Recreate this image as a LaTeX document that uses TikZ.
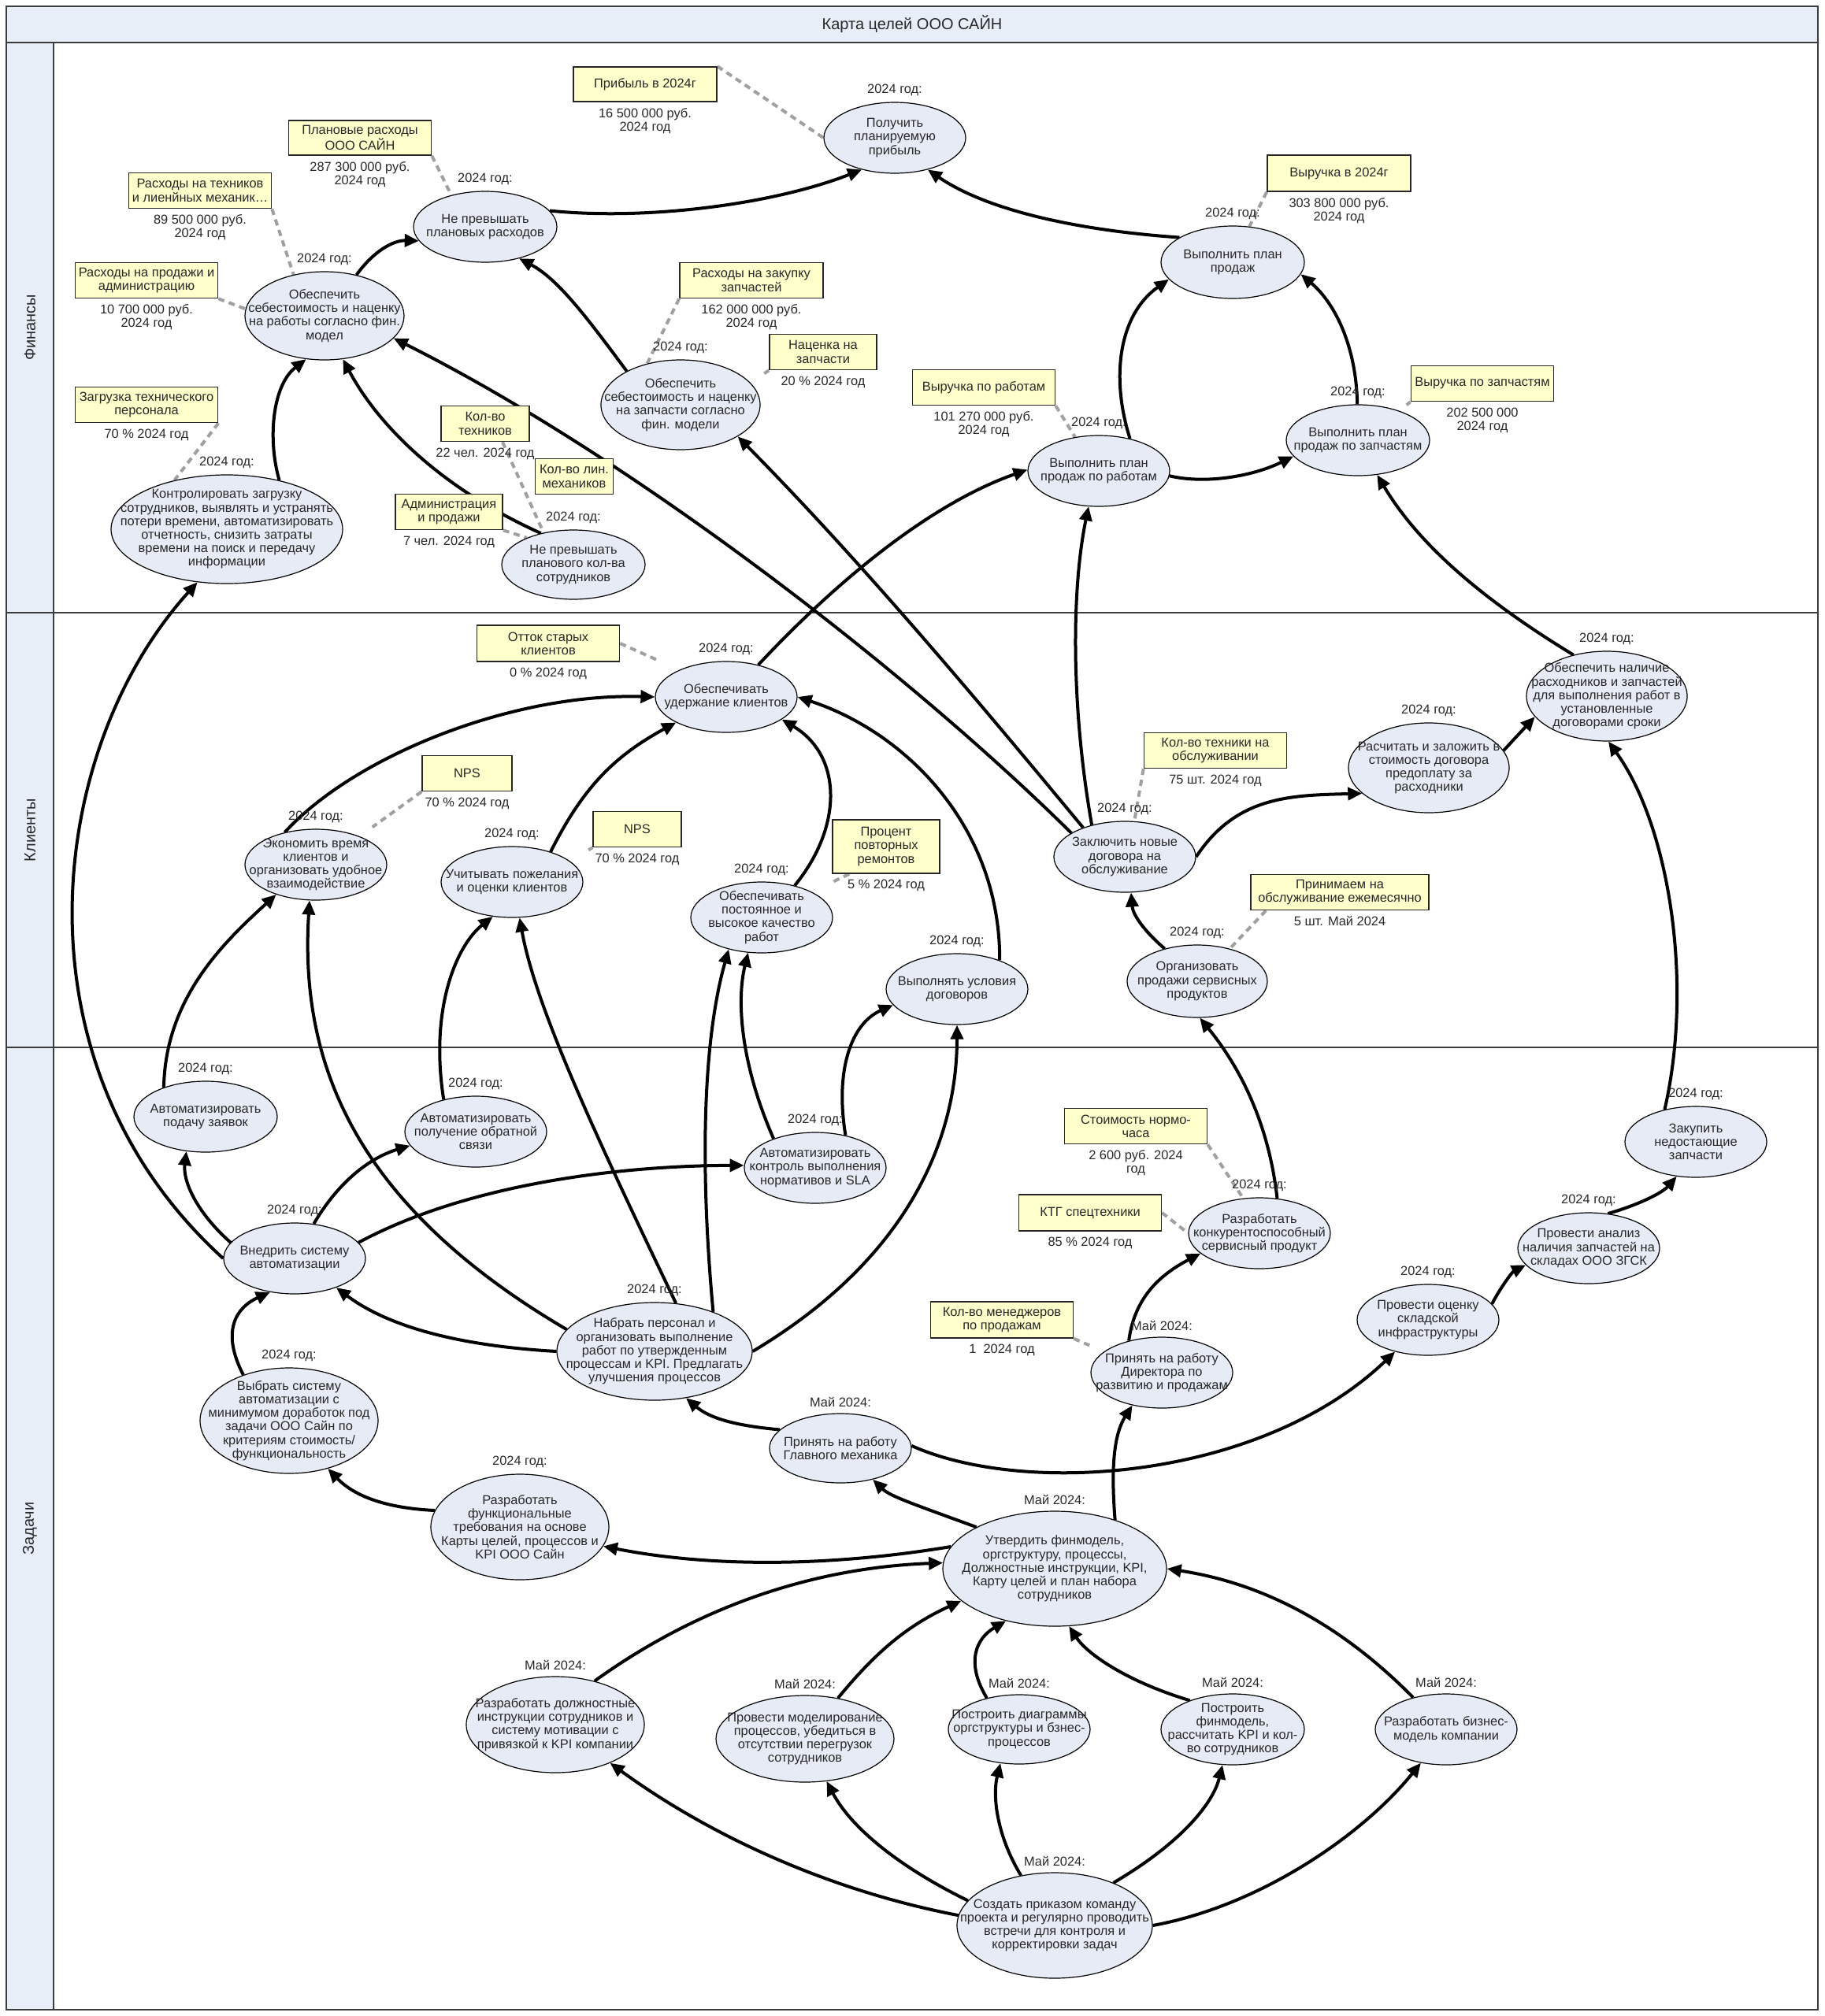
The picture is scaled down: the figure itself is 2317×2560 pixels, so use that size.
\documentclass[tikz,border=0pt]{standalone}
\usepackage{fontspec}
\setmainfont{Liberation Sans}
\usetikzlibrary{shapes.geometric,arrows.meta}
\pgfdeclarelayer{background}
\pgfsetlayers{background,main}
\newcommand\gfont{\fontsize{8.2}{8.6}\selectfont}
\newcommand\tfont{\fontsize{10}{12}\selectfont}
\definecolor{goalfill}{RGB}{230,235,246}
\definecolor{kpifill}{RGB}{255,255,204}
\definecolor{lanefill}{RGB}{232,238,248}
\definecolor{dashgray}{RGB}{160,160,160}
\definecolor{txt}{RGB}{40,40,40}
\definecolor{framec}{RGB}{60,60,60}
\tikzset{
 goal/.style={ellipse, draw=black, line width=0.6pt, fill=goalfill, align=center,
   inner xsep=-60pt, inner ysep=-30pt, font=\gfont, text=txt},
 G/.style 2 args={goal, minimum width=#1pt, minimum height=#2pt},
 kpi/.style={rectangle, draw=black!85, line width=0.8pt, fill=kpifill, align=center,
   inner sep=1pt, font=\gfont, text=txt},
 K/.style 2 args={kpi, minimum width=#1pt, minimum height=#2pt},
 yr/.style={font=\gfont, text=txt, inner sep=1pt},
 val/.style={font=\gfont, align=center, text=txt, inner sep=1pt},
 conn/.style={line width=2pt, -{Triangle[length=9pt,width=8pt]}},
 kdash/.style={line width=2pt, draw=dashgray, dash pattern=on 4pt off 3pt},
 lane/.style={font=\tfont, text=txt, rotate=90},
}
\begin{document}
\begin{tikzpicture}[x=0.5pt, y=-0.5pt, label distance=2.5pt]
\useasboundingbox (0,0) rectangle (2317,2560);

% ---------- title and lanes ----------
\node[font=\tfont, text=txt] (title) at (1158,31) {Карта целей ООО САЙН};
\node[lane] (lF) at (38,416) {Финансы};
\node[lane] (lC) at (38,1054) {Клиенты};
\node[lane] (lT) at (38,1941) {Задачи};

% ---------- Finance ----------
\node[G={90}{45}, label={[yr]above:{2024 год:}}] (n1) at (1136,175) {Получить\\планируемую\\прибыль};
\node[G={91}{45}, label={[yr]above:{2024 год:}}] (n2) at (616,288) {Не превышать\\плановых расходов};
\node[G={101}{56}, label={[yr]above:{2024 год:}}] (n3) at (412,401) {Обеспечить\\себестоимость и наценку\\на работы согласно фин.\\модел};
\node[G={147}{69}, label={[yr]above:{2024 год:}}] (n4) at (288,672) {Контролировать загрузку\\сотрудников, выявлять и устранять\\потери времени, автоматизировать\\отчетность, снизить затраты\\времени на поиск и передачу\\информации};
\node[G={91}{44}, label={[yr]above:{2024 год:}}] (n5) at (728,717) {Не превышать\\планового кол-ва\\сотрудников};
\node[G={101}{57}, label={[yr]above:{2024 год:}}] (n6) at (864,514) {Обеспечить\\себестоимость и наценку\\на запчасти согласно\\фин. модели};
\node[G={90}{45}, label={[yr]above:{2024 год:}}] (n7) at (1395,598) {Выполнить план\\продаж по работам};
\node[G={91}{46}, label={[yr]above:{2024 год:}}] (n8) at (1565,333) {Выполнить план\\продаж};
\node[G={91}{45}, label={[yr]above:{2024 год:}}] (n9) at (1724,559) {Выполнить план\\продаж по запчастям};

\node[K={91}{22}, label={[val]below:{16 500 000 руб.\\2024 год}}] (bPr) at (819,107) {Прибыль в 2024г};
\node[K={90.5}{22}, label={[val]below:{287 300 000 руб.\\2024 год}}] (bPl) at (457,175) {Плановые расходы\\ООО САЙН};
\node[K={90.5}{22.5}, label={[val]below:{89 500 000 руб.\\2024 год}}] (bRT) at (254,242) {Расходы на техников\\и лиенйных механик…};
\node[K={90.5}{22.5}, label={[val]below:{10 700 000 руб.\\2024 год}}] (bRP) at (186,356) {Расходы на продажи и\\администрацию};
\node[K={90.5}{22.5}, label={[val]below:{70 \% 2024 год}}] (bZT) at (186,514) {Загрузка технического\\персонала};
\node[K={56}{22.5}, label={[val]below:{22 чел. 2024 год}}] (bKT) at (616,538) {Кол-во\\техников};
\node[K={49.5}{22.5}] (bKL) at (729,605) {Кол-во лин.\\механиков};
\node[K={68}{22.5}, label={[val]below:{7 чел. 2024 год}}] (bAd) at (570,650) {Администрация\\и продажи};
\node[K={91}{22.5}, label={[val]below:{162 000 000 руб.\\2024 год}}] (bRZ) at (954,356) {Расходы на закупку\\запчастей};
\node[K={68}{22.5}, label={[val]below:{20 \% 2024 год}}] (bNa) at (1045,447) {Наценка на\\запчасти};
\node[K={90.5}{22.5}, label={[val]below:{101 270 000 руб.\\2024 год}}] (bVR) at (1249,492) {Выручка по работам};
\node[K={91}{23}, label={[val]below:{303 800 000 руб.\\2024 год}}] (bV24) at (1700,220) {Выручка в 2024г};
\node[K={90.5}{22.5}, label={[val]below:{202 500 000\\2024 год}}] (bVZ) at (1882,487) {Выручка по запчастям};

% ---------- Clients ----------
\node[G={90}{45}, label={[yr]above:{2024 год:}}] (n10) at (922,885) {Обеспечивать\\удержание клиентов};
\node[G={90}{45}, label={[yr]above:{2024 год:}}] (n11) at (401,1098) {Экономить время\\клиентов и\\организовать удобное\\взаимодействие};
\node[G={90}{45}, label={[yr]above:{2024 год:}}] (n12) at (650,1120) {Учитывать пожелания\\и оценки клиентов};
\node[G={90}{45}, label={[yr]above:{2024 год:}}] (n13) at (967,1165) {Обеспечивать\\постоянное и\\высокое качество\\работ};
\node[G={90}{45}, label={[yr]above:{2024 год:}}] (n14) at (1215,1256) {Выполнять условия\\договоров};
\node[G={90}{45}, label={[yr]above:{2024 год:}}] (n15) at (1428,1088) {Заключить новые\\договора на\\обслуживание};
\node[G={102}{57}, label={[yr]above:{2024 год:}}] (n16) at (1814,975) {Расчитать и заложить в\\стоимость договора\\предоплату за\\расходники};
\node[G={102}{57}, label={[yr]above:{2024 год:}}] (n17) at (2040,884) {Обеспечить наличие\\расходников и запчастей\\для выполнения работ в\\установленные\\договорами сроки};
\node[G={89}{46}, label={[yr]above:{2024 год:}}] (n18) at (1520,1246) {Организовать\\продажи сервисных\\продуктов};

\node[K={90.5}{23}, label={[val]below:{0 \% 2024 год}}] (bOt) at (696,817) {Отток старых\\клиентов};
\node[K={57}{22.5}, label={[val]below:{70 \% 2024 год}}] (bN1) at (593,982) {NPS};
\node[K={56}{22.5}, label={[val]below:{70 \% 2024 год}}] (bN2) at (809,1053) {NPS};
\node[K={68}{34}, label={[val]below:{5 \% 2024 год}}] (bPrc) at (1125,1075) {Процент\\повторных\\ремонтов};
\node[K={90.5}{22.5}, label={[val]below:{75 шт. 2024 год}}] (bKTO) at (1543,953) {Кол-во техники на\\обслуживании};
\node[K={113}{22.5}, label={[val]below:{5 шт. Май 2024}}] (bPrin) at (1701,1133) {Принимаем на\\обслуживание ежемесячно};

% ---------- Tasks ----------
\node[G={91}{45}, label={[yr]above:{2024 год:}}] (n19) at (261,1418) {Автоматизировать\\подачу заявок};
\node[G={90}{45}, label={[yr]above:{2024 год:}}] (n20) at (604,1437) {Автоматизировать\\получение обратной\\связи};
\node[G={90}{45}, label={[yr]above:{2024 год:}}] (n21) at (1035,1483) {Автоматизировать\\контроль выполнения\\нормативов и SLA};
\node[G={90}{45}, label={[yr]above:{2024 год:}}] (n22) at (374,1598) {Внедрить систему\\автоматизации};
\node[G={124}{62}, label={[yr]above:{2024 год:}}] (n23) at (831,1716) {Набрать персонал и\\организовать выполнение\\работ по утвержденным\\процессам и KPI. Предлагать\\улучшения процессов};
\node[G={113}{67}, label={[yr]above:{2024 год:}}] (n24) at (367,1804) {Выбрать систему\\автоматизации с\\минимумом доработок под\\задачи ООО Сайн по\\критериям стоимость/\\функциональность};
\node[G={113}{67}, label={[yr]above:{2024 год:}}] (n25) at (660,1939) {Разработать\\функциональные\\требования на основе\\Карты целей, процессов и\\KPI ООО Сайн};
\node[G={90}{45}, label={[yr]above:{2024 год:}}] (n26) at (1599,1566) {Разработать\\конкурентоспособный\\сервисный продукт};
\node[G={90}{45}, label={[yr]above:{Май 2024:}}] (n27) at (1475,1743) {Принять на работу\\Директора по\\развитию и продажам};
\node[G={90}{44}, label={[yr]above:{Май 2024:}}] (n28) at (1067,1839) {Принять на работу\\Главного механика};
\node[G={90}{45}, label={[yr]above:{2024 год:}}] (n29) at (1813,1676) {Провести оценку\\складской\\инфраструктуры};
\node[G={90}{45}, label={[yr]above:{2024 год:}}] (n30) at (2017,1585) {Провести анализ\\наличия запчастей на\\складах ООО ЗГСК};
\node[G={90}{45}, label={[yr]above:{2024 год:}}] (n31) at (2153,1450) {Закупить\\недостающие\\запчасти};
\node[G={142}{73}, label={[yr]above:{Май 2024:}}] (n32) at (1339,1992) {Утвердить финмодель,\\оргструктуру, процессы,\\Должностные инструкции, KPI,\\Карту целей и план набора\\сотрудников};
\node[G={113}{61}, label={[yr]above:{Май 2024:}}] (n33) at (705,2190) {Разработать должностные\\инструкции сотрудников и\\систему мотивации с\\привязкой к KPI компании};
\node[G={113}{55}, label={[yr]above:{Май 2024:}}] (n34) at (1022,2208) {Провести моделирование\\процессов, убедиться в\\отсутствии перегрузок\\сотрудников};
\node[G={90}{44}, label={[yr]above:{Май 2024:}}] (n35) at (1294,2196) {Построить диаграммы\\оргструктуры и бзнес-\\процессов};
\node[G={91}{45}, label={[yr]above:{Май 2024:}}] (n36) at (1565,2196) {Построить\\финмодель,\\рассчитать KPI и кол-\\во сотрудников};
\node[G={90}{45}, label={[yr]above:{Май 2024:}}] (n37) at (1836,2196) {Разработать бизнес-\\модель компании};
\node[G={124}{67}, label={[yr]above:{Май 2024:}}] (n38) at (1339,2445) {Создать приказом команду\\проекта и регулярно проводить\\встречи для контроля и\\корректировки задач};

\node[K={90.5}{22.5}, label={[val]below:{2 600 руб. 2024\\год}}] (bSt) at (1442,1430) {Стоимость нормо-\\часа};
\node[K={90.5}{23}, label={[val]below:{85 \% 2024 год}}] (bKTG) at (1384,1540) {КТГ спецтехники};
\node[K={90.5}{23}, label={[val]below:{1\ \ 2024 год}}] (bKM) at (1272,1676) {Кол-во менеджеров\\по продажам};

\begin{pgfonlayer}{background}
% frame
\draw[framec, line width=0.8pt, fill=lanefill] (8,8) rectangle (2308,54);
\draw[framec, line width=0.8pt, fill=lanefill] (8,54) rectangle (68,2552);
\draw[framec, line width=0.8pt] (68,54) rectangle (2308,2552);
\draw[framec, line width=0.8pt] (8,778) -- (2308,778);
\draw[framec, line width=0.8pt] (8,1330) -- (2308,1330);

% dashed KPI links
\draw[kdash] (bPr.north east) -- (n1.180);
\draw[kdash] (bPl.south east) -- (n2.137);
\draw[kdash] (bRT.south east) -- (n3.127);
\draw[kdash] (bRP.south east) -- (n3.175);
\draw[kdash] (bZT.south east) -- (n4.137);
\draw[kdash] ([xshift=11pt]bKT.south) -- (n5.133);
\draw[kdash] (bAd.south east) -- (n5.150);
\draw[kdash] (bRZ.south west) -- (n6.129);
\draw[kdash] (bNa.south west) -- ++(-6,4);
\draw[kdash] (bVR.south east) -- (n7.125);
\draw[kdash] (bV24.south west) -- (n8.65);
\draw[kdash] (bVZ.south west) -- ++(-5,4);
\draw[kdash, shorten >=15pt] (bOt.east) -- (n10.150);
\draw[kdash, shorten >=10pt] (bN1.south west) -- (n11.33);
\draw[kdash] (bN2.south west) -- ++(-5,3);
\draw[kdash] ([xshift=11pt]bPrc.south west) -- ++(-21,10);
\draw[kdash] (bKTO.south west) -- (n15.75);
\draw[kdash] ([xshift=10pt]bPrin.south west) -- (n18.45);
\draw[kdash] (bSt.south east) -- (n26.115);
\draw[kdash] (bKTG.east) -- (n26.180);
\draw[kdash, shorten >=10pt] (bKM.south east) -- (n27.160);

% Finance connectors
\draw[conn] (n2.14) .. controls (820,280) and (980,260) .. (n1.224);
\draw[conn] (n8.155) .. controls (1360,292) and (1250,265) .. (n1.316);
\draw[conn] (n3.52) .. controls (475,318) and (500,305) .. (n2.192);
\draw[conn] (n6.148) .. controls (750,410) and (710,355) .. (n2.317);
\draw[conn] (n4.43) .. controls (340,560) and (345,490) .. (n3.247);
\draw[conn] (n5.136) .. controls (560,620) and (480,540) .. (n3.293);
\draw[conn] (n15.156) .. controls (1150,850) and (800,580) .. (n3.342);
\draw[conn] (n15.145) .. controls (1250,900) and (1100,720) .. (n6.331);
\draw[conn] (n15.136) .. controls (1360,900) and (1360,750) .. (n7.254);
\draw[conn] (n10.45) .. controls (1060,740) and (1180,640) .. (n7.179);
\draw[conn] (n7.356) .. controls (1530,615) and (1590,605) .. (n9.194);
\draw[conn] (n7.46) .. controls (1410,480) and (1420,400) .. (n8.195);
\draw[conn] (n9.91) .. controls (1722,440) and (1695,385) .. (n8.350);
\draw[conn] (n17.129) .. controls (1880,760) and (1800,690) .. (n9.299);

% Clients connectors
\draw[conn] (n11.134) .. controls (450,960) and (650,880) .. (n10.180);
\draw[conn] (n12.38) .. controls (740,1000) and (780,960) .. (n10.207);
\draw[conn] (n13.44) .. controls (1070,1050) and (1070,960) .. (n10.338);
\draw[conn] (n14.34) .. controls (1270,1050) and (1150,930) .. (n10.0);
\draw[conn] (n15.0) .. controls (1570,1010) and (1640,1010) .. (n16.201);
\draw[conn] (n16.13) -- (n17.196);
\draw[conn] (n18.135) .. controls (1450,1180) and (1438,1160) .. (n15.280);

% Tasks connectors
\draw[conn] (n22.166) .. controls (250,1540) and (232,1500) .. (n19.241);
\draw[conn] (n22.180) .. controls (10,1350) and (60,950) .. (n4.241);
\draw[conn] (n22.61) .. controls (430,1500) and (470,1470) .. (n20.192);
\draw[conn] (n22.14) .. controls (600,1500) and (800,1480) .. (n21.178);
\draw[conn] (n19.145) .. controls (210,1270) and (280,1200) .. (n11.217);
\draw[conn] (n20.135) .. controls (545,1280) and (580,1200) .. (n12.241);
\draw[conn] (n23.180) .. controls (600,1710) and (500,1690) .. (n22.325);
\draw[conn] (n23.166) .. controls (450,1530) and (380,1350) .. (n11.260);
\draw[conn] (n23.66) .. controls (760,1450) and (680,1280) .. (n12.282);
\draw[conn] (n23.34) .. controls (890,1500) and (890,1330) .. (n13.224);
\draw[conn] (n21.145) .. controls (940,1350) and (935,1270) .. (n13.249);
\draw[conn] (n21.47) .. controls (1060,1360) and (1080,1300) .. (n14.194);
\draw[conn] (n23.0) .. controls (1150,1600) and (1215,1450) .. (n14.270);
\draw[conn] (n26.63) .. controls (1610,1420) and (1570,1350) .. (n18.274);
\draw[conn] (n31.134) .. controls (2150,1250) and (2120,1050) .. (n17.272);
\draw[conn] (n30.61) .. controls (2080,1530) and (2110,1515) .. (n31.241);
\draw[conn] (n29.14) .. controls (1905,1635) and (1920,1615) .. (n30.195);
\draw[conn] (n28.2) .. controls (1300,1900) and (1600,1880) .. (n29.224);
\draw[conn] (n28.163) .. controls (930,1810) and (900,1800) .. (n23.304);
\draw[conn] (n27.136) .. controls (1440,1650) and (1470,1620) .. (n26.199);
\draw[conn] (n32.152) .. controls (1160,1910) and (1130,1900) .. (n28.316);
\draw[conn] (n32.39) .. controls (1410,1860) and (1415,1820) .. (n27.228);
\draw[conn] (n32.168) .. controls (1050,1990) and (900,1990) .. (n25.347);
\draw[conn] (n25.169) .. controls (490,1915) and (450,1900) .. (n24.309);
\draw[conn] (n24.135) .. controls (280,1690) and (300,1660) .. (n22.234);
\draw[conn] (n33.48) .. controls (900,2030) and (1050,1990) .. (n32.177);
\draw[conn] (n34.51) .. controls (1110,2100) and (1150,2065) .. (n32.199);
\draw[conn] (n35.136) .. controls (1225,2110) and (1240,2080) .. (n32.227);
\draw[conn] (n36.146) .. controls (1430,2135) and (1380,2100) .. (n32.284);
\draw[conn] (n37.136) .. controls (1700,2060) and (1600,2010) .. (n32.0);
\draw[conn] (n38.174) .. controls (1050,2400) and (900,2330) .. (n33.325);
\draw[conn] (n38.164) .. controls (1140,2370) and (1080,2320) .. (n34.297);
\draw[conn] (n38.124) .. controls (1265,2330) and (1260,2280) .. (n35.241);
\draw[conn] (n38.36) .. controls (1500,2340) and (1540,2290) .. (n36.254);
\draw[conn] (n38.0) .. controls (1600,2420) and (1730,2330) .. (n37.233);
\end{pgfonlayer}
\end{tikzpicture}
\end{document}
